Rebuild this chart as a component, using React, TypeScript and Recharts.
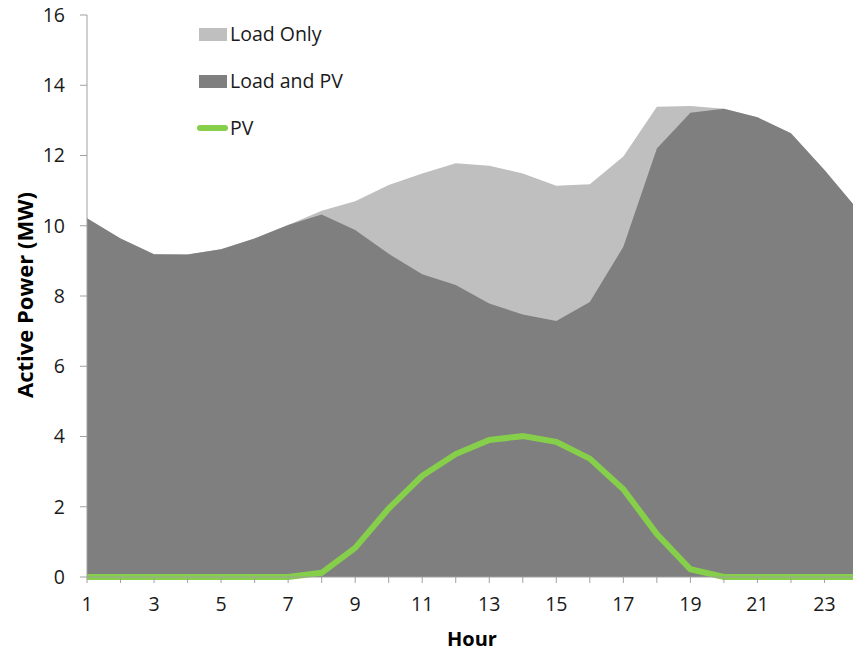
import { ComposedChart, Area, Line, XAxis, YAxis } from "recharts";

// hourly profile
const hours = [1, 2, 3, 4, 5, 6, 7, 8, 9, 10, 11, 12, 13, 14, 15, 16, 17, 18, 19, 20, 21, 22, 23, 24];
const loadOnly = [10.21, 9.64, 9.19, 9.18, 9.33, 9.64, 10.02, 10.43, 10.7, 11.16, 11.49, 11.78, 11.71, 11.49, 11.14, 11.18, 11.97, 13.39, 13.41, 13.33, 13.09, 12.63, 11.59, 10.45];
const loadAndPv = [10.21, 9.64, 9.19, 9.18, 9.33, 9.64, 10.02, 10.32, 9.88, 9.2, 8.62, 8.31, 7.79, 7.47, 7.29, 7.83, 9.4, 12.2, 13.22, 13.33, 13.09, 12.63, 11.59, 10.45];
const pv = [0, 0, 0, 0, 0, 0, 0, 0.12, 0.83, 1.95, 2.88, 3.5, 3.9, 4.01, 3.85, 3.37, 2.5, 1.22, 0.22, 0, 0, 0, 0, 0];
const yTicks = [0, 2, 4, 6, 8, 10, 12, 14, 16];

const data = hours.map((h, i) => ({
  hour: h,
  loadOnly: loadOnly[i],
  loadAndPv: loadAndPv[i],
  pv: pv[i],
}));

const FONT = "'Open Sans', sans-serif";
const LIGHT = "#bfbfbf";
const DARK = "#7f7f7f";
const GREEN = "#86cf4a";
const AXIS = "#a0a0a0";

const legendRow = { display: "flex", alignItems: "center", height: 24, marginBottom: 23 } as const;
const legendText = { fontSize: 19.5, color: "#1a1a1a", lineHeight: "24px" };

export default function App() {
  return (
    <div
      style={{
        position: "absolute",
        left: 0,
        top: 0,
        width: 853,
        height: 652,
        overflow: "hidden",
        background: "#fff",
        fontFamily: FONT,
      }}
    >
      <ComposedChart
        width={870}
        height={652}
        data={data}
        margin={{ top: 15, right: 12, left: 0, bottom: 45 }}
      >
        <XAxis
          dataKey="hour"
          type="number"
          domain={[1, 24]}
          ticks={hours}
          interval={0}
          tickFormatter={(v: number) => (v % 2 === 1 ? String(v) : "")}
          height={30}
          tickSize={6}
          tickMargin={14}
          stroke={AXIS}
          tick={{ fill: "#1a1a1a", fontSize: 19.5, fontFamily: FONT }}
        />
        <YAxis
          domain={[0, 16]}
          ticks={yTicks}
          width={87}
          tickSize={7}
          tickMargin={15}
          stroke={AXIS}
          tick={{ fill: "#1a1a1a", fontSize: 19.5, fontFamily: FONT }}
        />
        <Area
          type="linear"
          dataKey="loadOnly"
          fill={LIGHT}
          fillOpacity={1}
          stroke="none"
          isAnimationActive={false}
        />
        <Area
          type="linear"
          dataKey="loadAndPv"
          fill={DARK}
          fillOpacity={1}
          stroke="none"
          isAnimationActive={false}
        />
        <Line
          type="linear"
          dataKey="pv"
          stroke={GREEN}
          strokeWidth={6}
          dot={false}
          isAnimationActive={false}
        />
      </ComposedChart>

      {/* legend */}
      <div style={{ position: "absolute", left: 197, top: 22 }}>
        <div style={legendRow}>
          <div style={{ width: 28, height: 13, background: LIGHT, marginLeft: 2, marginRight: 3 }} />
          <span style={legendText}>Load Only</span>
        </div>
        <div style={legendRow}>
          <div style={{ width: 28, height: 13, background: DARK, marginLeft: 2, marginRight: 3 }} />
          <span style={legendText}>Load and PV</span>
        </div>
        <div style={legendRow}>
          <div style={{ width: 31, height: 6, borderRadius: 3, background: GREEN, marginRight: 2 }} />
          <span style={legendText}>PV</span>
        </div>
      </div>

      {/* axis titles */}
      <div
        style={{
          position: "absolute",
          left: 24 - 150,
          top: 295 - 12,
          width: 300,
          height: 24,
          lineHeight: "24px",
          textAlign: "center",
          transform: "rotate(-90deg)",
          fontWeight: 700,
          fontSize: 22,
          color: "#000",
        }}
      >
        Active Power (MW)
      </div>
      <div
        style={{
          position: "absolute",
          left: 372,
          top: 627,
          width: 200,
          height: 24,
          lineHeight: "24px",
          textAlign: "center",
          fontWeight: 700,
          fontSize: 20,
          color: "#000",
        }}
      >
        Hour
      </div>
    </div>
  );
}
